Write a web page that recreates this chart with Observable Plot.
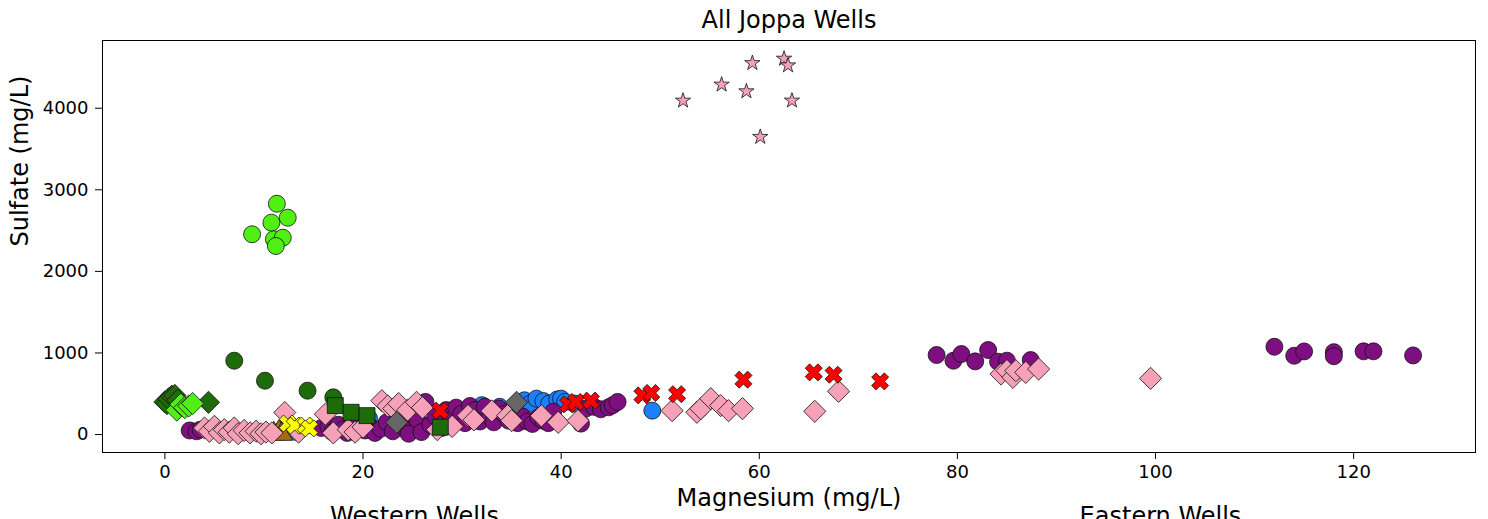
<!DOCTYPE html>
<html>
<head>
<meta charset="utf-8">
<script src="https://cdn.jsdelivr.net/npm/d3@7"></script>
<script src="https://cdn.jsdelivr.net/npm/@observablehq/plot@0.6"></script>
<style>
  html, body { margin: 0; padding: 0; background: #fff; }
  svg { display: block; }
</style>
</head>
<body>
<div id="chart"></div>
<script>
// ---- Data (Magnesium mg/L, Sulfate mg/L) ----
const blueCircles = [[11.8,50],[12.3,100],[12.8,60],[13.3,30],[18.8,150],[20.6,200],[22.8,140],[24.9,120],[27.4,200],[30.3,220],[32.0,360],[33.8,340],[35.0,300],[36.3,420],[36.9,380],[37.5,440],[38.2,410],[38.8,380],[39.6,430],[40.0,440],[40.4,400],[41.3,380],[49.2,293]];
const brownTriangles = [[11.0,10],[11.5,30],[11.8,5]];
const purpleCircles = [[2.5,50],[3.2,40],[3.6,60],[15.8,80],[16.5,100],[16.9,30],[17.5,120],[18.0,60],[18.4,20],[19.0,90],[19.6,140],[20.2,50],[20.6,110],[21.2,20],[21.8,70],[22.4,150],[23.0,40],[23.6,200],[24.1,100],[24.6,10],[25.0,240],[25.5,180],[25.9,30],[26.3,400],[26.8,120],[27.3,220],[27.9,80],[28.4,300],[28.9,180],[29.4,330],[29.9,250],[30.3,140],[30.8,350],[31.3,300],[31.8,160],[32.3,340],[32.8,220],[33.2,150],[33.7,320],[34.2,250],[34.7,170],[35.2,300],[35.6,140],[36.1,220],[36.6,160],[37.1,130],[37.7,210],[38.2,170],[38.7,140],[39.2,280],[42.0,134],[42.5,320],[43.3,340],[44.0,310],[44.8,334],[45.2,360],[45.7,400],[77.9,975],[79.6,905],[80.4,987],[81.8,897],[83.1,1036],[84.1,893],[85.0,905],[87.4,913],[112,1076],[114,966],[115,1019],[118,1010],[118,960],[121,1020],[122,1020],[126,970]];
const pinkDiamonds = [[4.0,80],[4.5,40],[5.0,100],[5.5,20],[6.0,60],[6.5,30],[7.0,80],[7.4,10],[8.0,50],[8.6,20],[9.2,40],[9.7,10],[10.2,30],[10.8,20],[12.1,270],[13.5,30],[16.2,250],[17.0,20],[18.5,60],[19.2,30],[20.0,90],[21.9,415],[22.5,350],[23.1,318],[23.6,380],[24.5,300],[25.4,395],[26.0,330],[27.5,60],[29.0,100],[30.6,232],[31.2,180],[33.0,290],[34.6,232],[35.0,170],[38.0,230],[39.7,150],[41.7,171],[51.2,293],[53.7,273],[54.1,318],[55.1,440],[56.1,355],[56.9,293],[58.3,318],[65.6,285],[68.0,530],[84.4,742],[85.0,783],[85.6,701],[85.9,783],[86.9,762],[88.2,803],[99.5,688]];
const greyDiamonds = [[23.4,150],[35.5,395]];
const darkGreenCircles = [[7.0,905],[10.1,660],[14.4,538],[17.0,456]];
const darkGreenDiamonds = [[0.0,400],[0.2,380],[0.4,440],[0.7,470],[1.0,480],[1.3,420],[4.4,395]];
const darkGreenSquares = [[17.2,355],[18.8,273],[20.4,232],[27.8,90]];
const brightGreenCircles = [[11.3,2829],[12.4,2658],[10.75,2597],[8.8,2455],[11.0,2394],[11.9,2413],[11.2,2311]];
const brightGreenDiamonds = [[1.2,300],[1.6,370],[2.0,330],[2.4,350],[2.8,380]];
const pinkStars = [[52.3,4093],[56.2,4289],[58.7,4207],[59.3,4553],[60.1,3648],[62.5,4607],[62.9,4525],[63.3,4093]];
const redCrosses = [[27.8,293],[40.7,370],[41.5,400],[43.0,416],[48.2,480],[49.1,510],[51.7,495],[58.4,673],[65.5,762],[67.5,733],[72.2,652]];
const yellowCrosses = [[12.4,135],[13.1,110],[14.2,110],[14.6,75]];

const xTicks = [0, 20, 40, 60, 80, 100, 120];
const yTicks = [0, 1000, 2000, 3000, 4000];
const titleText = "All Joppa Wells";
const xLabel = "Magnesium (mg/L)";
const yLabel = "Sulfate (mg/L)";
const groupLabels = [{x: 25.2, t: "Western Wells"}, {x: 100.5, t: "Eastern Wells"}];

// filled "X" marker (like matplotlib 'X')
const filledX = {
  draw(context, size) {
    const r = Math.sqrt(size / Math.PI);
    const w = r * 0.34, L = r * 1.0;
    const pts = [[w,w],[w,L],[-w,L],[-w,w],[-L,w],[-L,-w],[-w,-w],[-w,-L],[w,-L],[w,-w],[L,-w],[L,w]];
    const c = Math.SQRT1_2;
    pts.forEach(([a,b], i) => {
      const px = (a - b) * c, py = (a + b) * c;
      if (i === 0) context.moveTo(px, py); else context.lineTo(px, py);
    });
    context.closePath();
  }
};

const edge = {stroke: "#111", strokeWidth: 0.8};
const px = d => d[0], py = d => d[1];
const font = "DejaVu Sans, sans-serif";

const chart = Plot.plot({
  width: 1488,
  height: 519,
  marginTop: 40,
  marginLeft: 102,
  marginRight: 13,
  marginBottom: 67,
  style: {fontFamily: font, background: "#fff", overflow: "visible"},
  x: {domain: [-6.3, 132.3]},
  y: {domain: [-220, 4830]},
  marks: [
    Plot.axisX({ticks: xTicks, tickSize: 7, tickPadding: 6, fontSize: 18, label: null, stroke: "#000"}),
    Plot.axisY({ticks: yTicks, tickSize: 7, tickPadding: 7, fontSize: 18, label: null, tickFormat: d => String(d), stroke: "#000"}),
    Plot.dot(blueCircles, {x: px, y: py, symbol: "circle", r: 8.5, fill: "#1a80ff", ...edge}),
    Plot.dot(brownTriangles, {x: px, y: py, symbol: "triangle", r: 8, fill: "#a86b0d", ...edge}),
    Plot.dot(purpleCircles, {x: px, y: py, symbol: "circle", r: 8.5, fill: "#7f0f80", ...edge}),
    Plot.dot(pinkDiamonds, {x: px, y: py, symbol: "diamond2", r: 10, fill: "#f7a1b8", ...edge}),
    Plot.dot(greyDiamonds, {x: px, y: py, symbol: "diamond2", r: 10, fill: "#666666", ...edge}),
    Plot.dot(darkGreenDiamonds, {x: px, y: py, symbol: "diamond2", r: 10, fill: "#1e6b0a", ...edge}),
    Plot.dot(darkGreenCircles, {x: px, y: py, symbol: "circle", r: 8.5, fill: "#1e6b0a", ...edge}),
    Plot.dot(darkGreenSquares, {x: px, y: py, symbol: "square", r: 9, fill: "#1e6b0a", ...edge}),
    Plot.dot(brightGreenDiamonds, {x: px, y: py, symbol: "diamond2", r: 10, fill: "#50f015", ...edge}),
    Plot.dot(brightGreenCircles, {x: px, y: py, symbol: "circle", r: 8.5, fill: "#50f015", ...edge}),
    Plot.dot(pinkStars, {x: px, y: py, symbol: "star", r: 4.8, fill: "#f7a1b8", ...edge}),
    Plot.dot(redCrosses, {x: px, y: py, symbol: filledX, r: 9, fill: "#ff0000", ...edge}),
    Plot.dot(yellowCrosses, {x: px, y: py, symbol: filledX, r: 9, fill: "#ffff00", ...edge}),
    Plot.frame({stroke: "#000", strokeWidth: 1}),
    Plot.text([titleText], {text: d => d, frameAnchor: "top", dy: -20, fontSize: 24, fill: "#000", lineAnchor: "middle"}),
    Plot.text([xLabel], {text: d => d, frameAnchor: "bottom", dy: 46, fontSize: 24, fill: "#000", lineAnchor: "middle"}),
    Plot.text([yLabel], {text: d => d, frameAnchor: "left", dx: -82, rotate: -90, fontSize: 24, fill: "#000", lineAnchor: "middle"}),
    Plot.text(groupLabels, {x: "x", text: "t", frameAnchor: "bottom", dy: 64, fontSize: 24, fill: "#000", lineAnchor: "middle"})
  ]
});
document.getElementById("chart").appendChild(chart);
</script>
</body>
</html>
